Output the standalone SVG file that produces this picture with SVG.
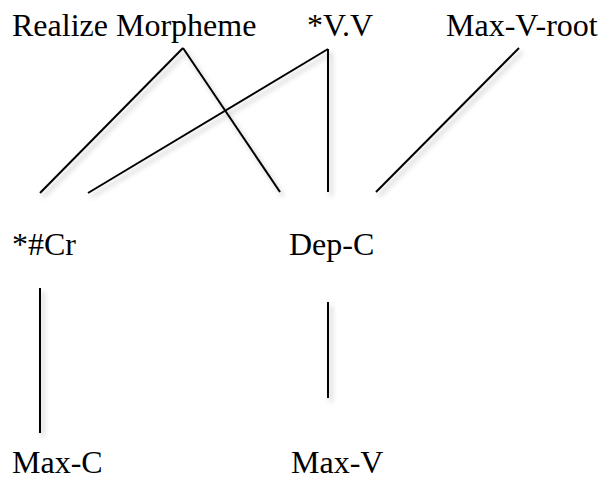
<svg xmlns="http://www.w3.org/2000/svg" width="603" height="479" viewBox="0 0 603 479">
<defs>
<filter id="sh" filterUnits="userSpaceOnUse" x="0" y="0" width="603" height="479">
<feDropShadow dx="3" dy="4" stdDeviation="2.5" flood-color="#000" flood-opacity="0.25"/>
</filter>
</defs>
<style>
text{font-family:'Liberation Serif','DejaVu Serif',serif;font-size:32px;fill:#000}
.c line{stroke:#000;stroke-width:2}
</style>
<rect width="603" height="479" fill="#fff"/>
<g class="c" id="connectors" filter="url(#sh)">
<line x1="183" y1="48" x2="40" y2="193"/>
<line x1="183" y1="48" x2="280" y2="192"/>
<line x1="328" y1="49" x2="88" y2="193"/>
<line x1="328" y1="49" x2="328" y2="192"/>
<line x1="519" y1="48" x2="376" y2="192"/>
<line x1="40" y1="288" x2="40" y2="433"/>
<line x1="328" y1="302" x2="328" y2="398"/>
</g>
<g id="realize"><text x="12" y="36" font-family="Liberation Serif, serif">Realize Morpheme</text></g>
<g id="vv"><text x="307" y="36" font-family="Liberation Serif, serif">*V.V</text></g>
<g id="maxvroot"><text x="446" y="36" font-family="Liberation Serif, serif">Max-V-root</text></g>
<g id="cr"><text x="12" y="255" font-family="Liberation Serif, serif">*#Cr</text></g>
<g id="depc"><text x="289" y="255" font-family="Liberation Serif, serif">Dep-C</text></g>
<g id="maxc"><text x="12" y="473" font-family="Liberation Serif, serif">Max-C</text></g>
<g id="maxv"><text x="291" y="473" font-family="Liberation Serif, serif">Max-V</text></g>
</svg>
